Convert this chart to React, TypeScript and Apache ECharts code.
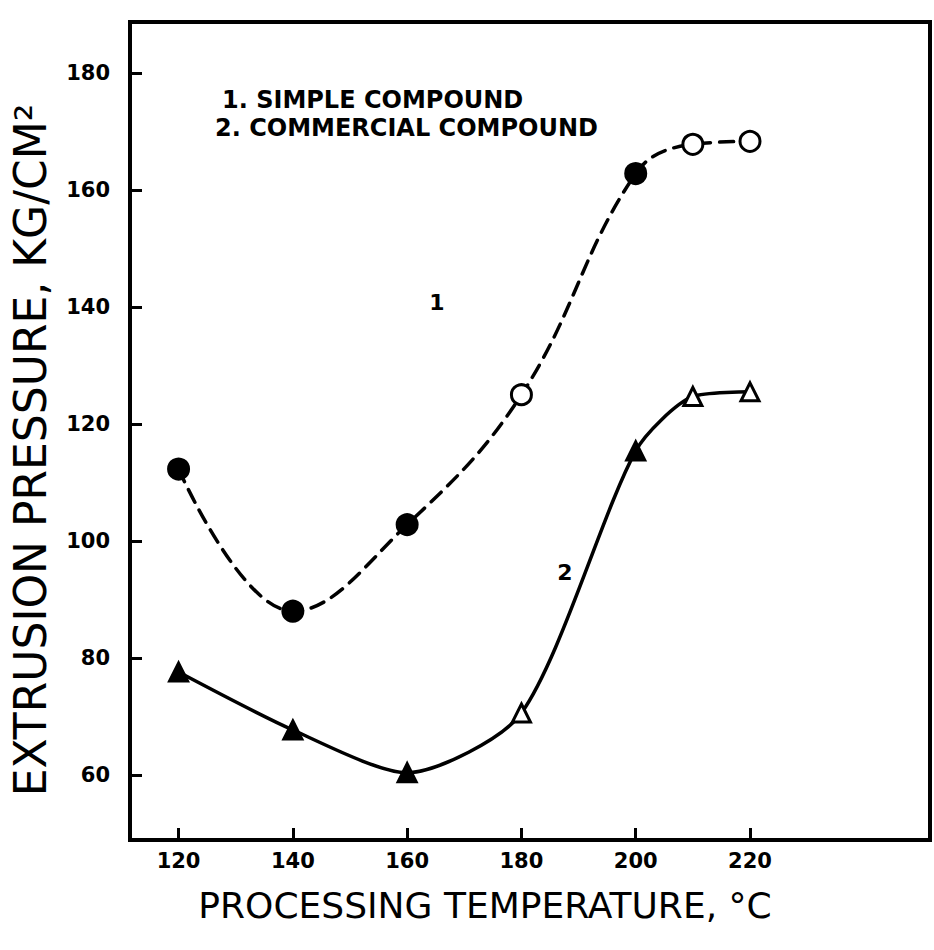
import React, { useEffect, useRef } from "react";
import * as echarts from "echarts";

// Processing temperature (°C) at which each compound was extruded
const temperatures = [120, 140, 160, 180, 200, 210, 220];
// Extrusion pressure, kg/cm²
const simplePressure = [112.3, 88, 102.8, 125, 162.8, 167.8, 168.3];
const commercialPressure = [77.6, 67.7, 60.4, 70.6, 115.4, 124.7, 125.5];

const xTickValues = [120, 140, 160, 180, 200, 220];
const yTickValues = [60, 80, 100, 120, 140, 160, 180];

const legendLines = ["1. SIMPLE COMPOUND", "2. COMMERCIAL COMPOUND"];
const curveLabels = ["1", "2"];
const xTitle = "PROCESSING TEMPERATURE, °C";
const yTitle = "EXTRUSION PRESSURE, KG/CM²";

// which markers are drawn solid (the rest are open)
const simpleFilled = [true, true, true, false, true, false, false];
const commercialFilled = [true, true, true, false, true, false, false];

const INK = "#000";
const FONT = "DejaVu Sans";

function points(values: number[], filled: boolean[]) {
  return temperatures.map((t, i) => ({
    value: [t, values[i]],
    itemStyle: {
      color: filled[i] ? INK : "#fff",
      borderColor: INK,
      borderWidth: 3,
    },
  }));
}

export default function App() {
  const ref = useRef<HTMLDivElement>(null);

  useEffect(() => {
    if (!ref.current) return;
    const chart = echarts.init(ref.current, undefined, { renderer: "svg" });

    const axisLabelStyle = {
      color: INK,
      fontFamily: FONT,
      fontWeight: "bold" as const,
      fontSize: 21,
    };

    chart.setOption({
      animation: false,
      backgroundColor: "#fff",
      grid: {
        left: 130,
        right: 4,
        top: 22,
        bottom: 110,
        show: true,
        borderColor: INK,
        borderWidth: 4,
      },
      xAxis: {
        type: "value",
        min: 111.5,
        max: 251.5,
        axisLine: { show: true, onZero: false, lineStyle: { color: INK, width: 4 } },
        axisTick: {
          show: true,
          inside: true,
          length: 12,
          lineStyle: { color: INK, width: 3 },
          customValues: xTickValues,
        },
        axisLabel: { ...axisLabelStyle, margin: 10, customValues: xTickValues },
        splitLine: { show: false },
      },
      yAxis: {
        type: "value",
        min: 48.9,
        max: 188.7,
        axisLine: { show: true, onZero: false, lineStyle: { color: INK, width: 4 } },
        axisTick: {
          show: true,
          inside: true,
          length: 12,
          lineStyle: { color: INK, width: 3 },
          customValues: yTickValues,
        },
        axisLabel: { ...axisLabelStyle, margin: 20, customValues: yTickValues },
        splitLine: { show: false },
      },
      series: [
        {
          name: legendLines[0],
          type: "line",
          smooth: 0.4,
          symbol: "circle",
          symbolSize: 20,
          lineStyle: { color: INK, width: 3.5, type: [14, 9], cap: "round" },
          data: points(simplePressure, simpleFilled),
          z: 3,
        },
        {
          name: legendLines[1],
          type: "line",
          smooth: 0.25,
          symbol: "triangle",
          symbolSize: 18,
          lineStyle: { color: INK, width: 3.5 },
          data: points(commercialPressure, commercialFilled),
          z: 3,
        },
      ],
      graphic: [
        {
          type: "text",
          x: 30,
          y: 450,
          rotation: Math.PI / 2,
          style: {
            text: yTitle,
            fontFamily: FONT,
            fontSize: 44,
            fill: INK,
            textAlign: "center",
            textVerticalAlign: "middle",
          },
        },
        {
          type: "text",
          x: 485,
          y: 905,
          style: {
            text: xTitle,
            fontFamily: FONT,
            fontSize: 36,
            fill: INK,
            textAlign: "center",
            textVerticalAlign: "middle",
          },
        },
        ...legendLines.map((line, i) => ({
          type: "text",
          x: i === 0 ? 222 : 215,
          y: 100 + i * 28,
          style: {
            text: line,
            fontFamily: FONT,
            fontWeight: "bold",
            fontSize: 24,
            fill: INK,
            textAlign: "left",
            textVerticalAlign: "middle",
          },
        })),
        {
          type: "text",
          x: 437,
          y: 302,
          style: {
            text: curveLabels[0],
            fontFamily: FONT,
            fontWeight: "bold",
            fontSize: 22,
            fill: INK,
            textAlign: "center",
            textVerticalAlign: "middle",
          },
        },
        {
          type: "text",
          x: 565,
          y: 572,
          style: {
            text: curveLabels[1],
            fontFamily: FONT,
            fontWeight: "bold",
            fontSize: 22,
            fill: INK,
            textAlign: "center",
            textVerticalAlign: "middle",
          },
        },
      ],
    });

    return () => chart.dispose();
  }, []);

  return (
    <div
      ref={ref}
      style={{ position: "absolute", left: 0, top: 0, width: 934, height: 950 }}
    />
  );
}
